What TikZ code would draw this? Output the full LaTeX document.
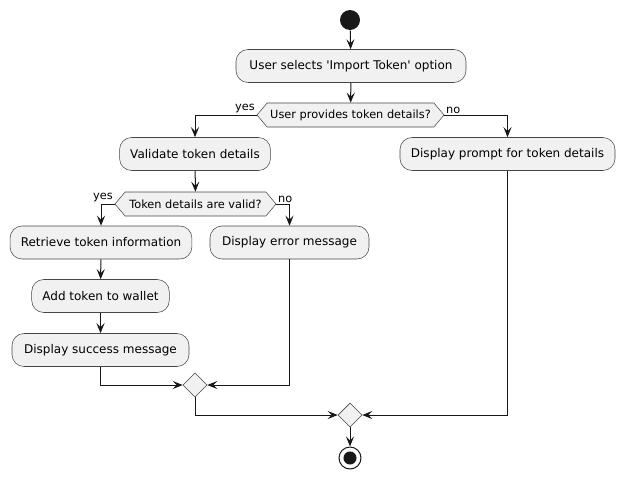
\documentclass[tikz,border=0pt]{standalone}
\usepackage{fontspec}
\setmainfont{DejaVu Sans}
\usetikzlibrary{arrows.meta,shapes.geometric,shapes.symbols}

\definecolor{boxfill}{HTML}{F1F1F1}
\definecolor{linecol}{HTML}{181818}

\tikzset{every picture/.style={line width=0.75pt}}
\tikzset{
	action/.style={draw=linecol!80, line width=0.4pt, fill=boxfill, rounded corners=9pt, minimum height=24.75pt, inner xsep=8pt, font=\fontsize{9}{11}\selectfont},
	question/.style={draw=linecol!80, line width=0.4pt, fill=boxfill, shape=signal, signal to=west and east, signal pointer angle=100, minimum height=18pt, inner sep=1pt, font=\fontsize{8.5}{10}\selectfont},
	merge/.style={draw=linecol!80, line width=0.4pt, fill=boxfill, diamond, minimum width=18pt, minimum height=18pt, inner sep=0pt},
	flow/.style={draw=linecol, -{Stealth[length=7.5pt,width=6pt,inset=3pt]}},
	branch/.style={font=\fontsize{8.5}{10}\selectfont, inner sep=1pt},
}

\begin{document}
\begin{tikzpicture}[x=0.75pt,y=0.75pt,yscale=-1,xscale=1]
	\useasboundingbox (0,0) rectangle (624,479);
	
	% Start / stop
	\node[circle, fill=linecol, minimum size=15pt, inner sep=0pt] (start) at (350,20) {};
	\node[circle, draw=linecol, line width=0.75pt, fill=white, minimum size=16.5pt, inner sep=0pt] (stop) at (350,458) {};
	\fill[linecol] (stop.center) circle (4.9pt);
	
	% Actions
	\node[action, minimum width=172.5pt] (select) at (351,66) {User selects \textquotesingle Import Token\textquotesingle{} option};
	\node[action, minimum width=112.5pt] (validate) at (195,154) {Validate token details};
	\node[action, minimum width=161.25pt] (prompt) at (507.5,154) {Display prompt for token details};
	\node[action, minimum width=133.5pt] (retrieve) at (101,242.5) {Retrieve token information};
	\node[action, minimum width=119.25pt] (error) at (289.5,242.5) {Display error message};
	\node[action, minimum width=102.75pt] (add) at (100.5,296) {Add token to wallet};
	\node[action, minimum width=132.75pt] (success) at (100.5,350) {Display success message};
	
	% Decisions
	\node[question, minimum width=140.25pt] (provides) at (350.5,115) {User provides token details?};
	\node[question, minimum width=120.75pt] (valid) at (195.5,204) {Token details are valid?};
	\node[merge] (mergeA) at (195,385) {};
	\node[merge] (mergeB) at (350,415) {};
	
	% Connectors
	\draw[flow] (start) -- (select);
	\draw[flow] (select) -- (provides);
	\draw[flow] (provides.west) -| (validate);
	\draw[flow] (provides.east) -| (prompt);
	\draw[flow] (validate) -- (valid);
	\draw[flow] (valid.west) -| (retrieve);
	\draw[flow] (valid.east) -| (error);
	\draw[flow] (retrieve) -- (add);
	\draw[flow] (add) -- (success);
	\draw[flow] (success) |- (mergeA);
	\draw[flow] (error) |- (mergeA);
	\draw[flow] (mergeA) |- (mergeB);
	\draw[flow] (prompt) |- (mergeB);
	\draw[flow] (mergeB) -- (stop);
	
	% Branch labels
	\node[branch, anchor=south east] (yesA) at (provides.west) {yes};
	\node[branch, anchor=south west] (noA) at (provides.east) {no};
	\node[branch, anchor=south east] (yesB) at (valid.west) {yes};
	\node[branch, anchor=south west] (noB) at (valid.east) {no};
	
\end{tikzpicture}
\end{document}
